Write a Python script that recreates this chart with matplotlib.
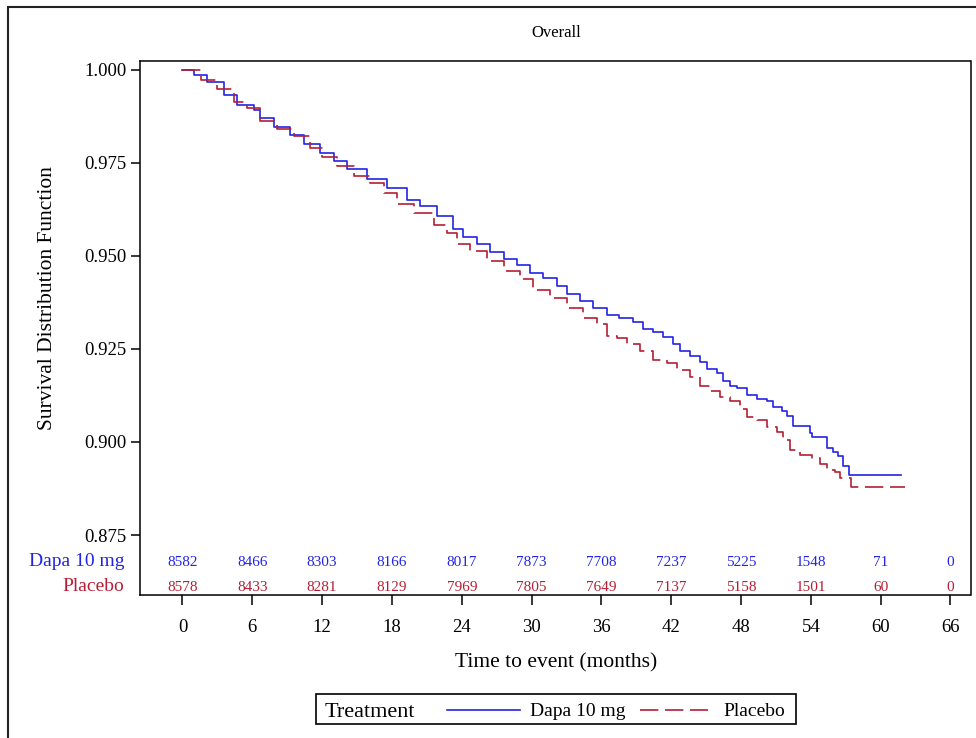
import matplotlib
matplotlib.use('Agg')
import matplotlib.pyplot as plt
from matplotlib.lines import Line2D
from matplotlib.patches import Rectangle
from matplotlib.ticker import FormatStrFormatter

plt.rcParams['font.family'] = ['Liberation Serif', 'DejaVu Serif']

# ---------------- data ----------------
dapa_t = [0, 0.97, 2.12, 3.55, 4.70, 6.12, 6.70, 7.84, 9.27, 10.41, 11.85, 12.99, 14.14, 15.86, 17.58,
          19.29, 20.43, 21.87, 23.29, 24.15, 25.30, 26.44, 27.59, 28.74, 29.88, 31.02, 32.17, 33.03,
          34.17, 35.31, 36.46, 37.55, 38.72, 39.58, 40.44, 41.30, 42.16, 42.76, 43.62, 44.47, 45.05,
          45.91, 46.45, 47.05, 47.63, 48.48, 49.34, 50.20, 50.74, 51.49, 51.92, 52.46, 53.92, 54.07,
          55.35, 55.89, 56.32, 56.75, 57.27, 61.79]
dapa_s = [1.000, 0.9986, 0.9968, 0.9932, 0.9906, 0.9892, 0.9870, 0.9847, 0.9825, 0.9800, 0.9776, 0.9754,
          0.9732, 0.9705, 0.9682, 0.9651, 0.9633, 0.9607, 0.9571, 0.9550, 0.9532, 0.9511, 0.9491, 0.9475,
          0.9455, 0.9440, 0.9419, 0.9397, 0.9379, 0.9361, 0.9342, 0.9334, 0.9321, 0.9304, 0.9294, 0.9283,
          0.9264, 0.9245, 0.9232, 0.9214, 0.9197, 0.9184, 0.9165, 0.9149, 0.9145, 0.9125, 0.9116, 0.9109,
          0.9093, 0.9082, 0.9071, 0.9044, 0.9023, 0.9013, 0.8983, 0.8973, 0.8961, 0.8935, 0.8911, 0.8911]

plac_t = [0, 1.55, 2.98, 4.40, 5.56, 6.70, 8.13, 9.56, 10.99, 11.99, 13.28, 14.71, 16.14, 17.28, 18.43,
          19.86, 21.58, 22.73, 23.58, 24.73, 26.16, 27.59, 29.02, 30.16, 31.60, 33.03, 34.46, 35.61,
          36.46, 37.32, 38.18, 39.32, 40.44, 41.62, 42.47, 43.62, 44.47, 45.33, 46.19, 47.05, 47.91,
          48.48, 49.34, 50.20, 51.06, 51.63, 52.20, 53.06, 54.07, 54.78, 55.35, 56.07, 56.50, 57.41, 62.05]
plac_s = [1.000, 0.9972, 0.9948, 0.9914, 0.9896, 0.9861, 0.9841, 0.9821, 0.9789, 0.9764, 0.9740, 0.9714,
          0.9696, 0.9669, 0.9638, 0.9615, 0.9584, 0.9562, 0.9532, 0.9513, 0.9486, 0.9459, 0.9437, 0.9408,
          0.9386, 0.9361, 0.9334, 0.9317, 0.9285, 0.9278, 0.9263, 0.9245, 0.9221, 0.9211, 0.9192, 0.9174,
          0.9151, 0.9136, 0.9120, 0.9111, 0.9089, 0.9067, 0.9058, 0.9040, 0.9027, 0.9004, 0.8978, 0.8964,
          0.8958, 0.8942, 0.8924, 0.8918, 0.8902, 0.8878, 0.8878]

risk_times = [0, 6, 12, 18, 24, 30, 36, 42, 48, 54, 60, 66]
dapa_risk = [8582, 8466, 8303, 8166, 8017, 7873, 7708, 7237, 5225, 1548, 71, 0]
plac_risk = [8578, 8433, 8281, 8129, 7969, 7805, 7649, 7137, 5158, 1501, 60, 0]

x_ticks = [0, 6, 12, 18, 24, 30, 36, 42, 48, 54, 60, 66]
y_ticks = [0.875, 0.900, 0.925, 0.950, 0.975, 1.000]

groups = ['Dapa 10 mg', 'Placebo']
title = 'Overall'
xlabel = 'Time to event (months)'
ylabel = 'Survival Distribution Function'
legend_title = 'Treatment'

BLUE = '#2323E6'
RED = '#B41F35'

# ---------------- figure ----------------
W, H = 976, 738
fig = plt.figure(figsize=(W / 100, H / 100), dpi=100)

def fx(px):
    return px / W

def fy(py):
    return 1 - py / H

ax_l, ax_r, ax_t, ax_b = 140, 970.5, 60.7, 595
ax = fig.add_axes([fx(ax_l), fy(ax_b), (ax_r - ax_l) / W, (ax_b - ax_t) / H])

ax.step(dapa_t, dapa_s, where='post', color=BLUE, lw=1.2)
ax.step(plac_t, plac_s, where='post', color=RED, lw=1.2, linestyle=(0, (11, 4)))

ax.set_xlim(-3.65, 67.72)
ax.set_ylim(0.8589, 1.00239)
ax.set_xticks(x_ticks)
ax.set_yticks(y_ticks)
ax.yaxis.set_major_formatter(FormatStrFormatter('%.3f'))
ax.tick_params(axis='x', direction='out', length=7.5, width=1.1, labelsize=13.5, pad=10)
ax.tick_params(axis='y', direction='out', length=6.5, width=1.1, labelsize=13.5, pad=3)
for sp in ax.spines.values():
    sp.set_linewidth(1.1)
    sp.set_color('black')

# at-risk table inside the axes
tr = ax.get_xaxis_transform()
for t, d, p in zip(risk_times, dapa_risk, plac_risk):
    ax.text(t, 0.0543, str(d), transform=tr, ha='center', va='baseline', fontsize=11, color=BLUE)
    ax.text(t, 0.0080, str(p), transform=tr, ha='center', va='baseline', fontsize=11, color=RED)

ax.text(-0.0185, 0.0543, groups[0], transform=ax.transAxes, ha='right', va='baseline', fontsize=14, color=BLUE)
ax.text(-0.0185, 0.0080, groups[1], transform=ax.transAxes, ha='right', va='baseline', fontsize=14, color=RED)

# titles / labels
fig.text(fx(556), fy(33), title, ha='center', va='center', fontsize=12)
fig.text(fx(556), fy(663), xlabel, ha='center', va='center', fontsize=15.5)
fig.text(fx(48), fy(298), ylabel, ha='center', va='center', rotation=90, fontsize=15.5)

# legend
fig.patches.append(Rectangle((fx(316), fy(723.5)), 480 / W, 29.5 / H, transform=fig.transFigure,
                             fill=False, edgecolor='black', lw=1.2))
fig.text(fx(325), fy(717), legend_title, ha='left', va='baseline', fontsize=16)
fig.lines.append(Line2D([fx(447), fx(520)], [fy(710), fy(710)], transform=fig.transFigure, color=BLUE, lw=1.2))
fig.text(fx(530), fy(716), groups[0], ha='left', va='baseline', fontsize=14)
fig.lines.append(Line2D([fx(640), fx(708)], [fy(710), fy(710)], transform=fig.transFigure, color=RED, lw=1.2,
                        linestyle=(0, (11, 4))))
fig.text(fx(723), fy(716), groups[1], ha='left', va='baseline', fontsize=14)

# outer frame
fig.patches.append(Rectangle((fx(8), -0.05), 1.2, fy(6.5) + 0.05, transform=fig.transFigure,
                             fill=False, edgecolor='#222222', lw=1.5))

fig.savefig('out.png', dpi=100)
